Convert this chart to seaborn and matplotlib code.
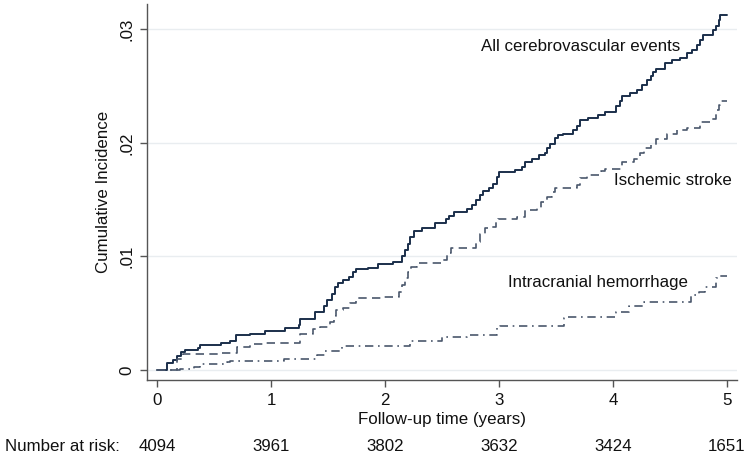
import matplotlib
matplotlib.use("Agg")
import matplotlib.pyplot as plt
import seaborn as sns
import pandas as pd

# ---------------- data ----------------
all_t = [0, 0.085, 0.14, 0.17, 0.21, 0.24, 0.36, 0.375, 0.56, 0.64, 0.69, 0.81, 0.945, 1.12, 1.24, 1.25,
         1.38, 1.46, 1.49, 1.53, 1.56, 1.59, 1.63, 1.68, 1.72, 1.74, 1.85, 1.94, 2.07, 2.15, 2.17, 2.20,
         2.22, 2.25, 2.32, 2.44, 2.53, 2.56, 2.60, 2.72, 2.76, 2.80, 2.83, 2.86, 2.91, 2.95, 2.98, 3.00,
         3.14, 3.20, 3.23, 3.29, 3.35, 3.40, 3.42, 3.45, 3.49, 3.52, 3.56, 3.65, 3.68, 3.71, 3.78, 3.87,
         3.93, 4.03, 4.06, 4.08, 4.15, 4.21, 4.25, 4.30, 4.33, 4.35, 4.38, 4.46, 4.52, 4.59, 4.65, 4.69,
         4.74, 4.76, 4.79, 4.88, 4.90, 4.93, 4.94, 5.0]
all_ci = [0, .00064, .00088, .0012, .0016, .00176, .00196, .0022, .00235, .00255, .0031, .0032, .00346,
          .00367, .0040, .0045, .0051, .0056, .0062, .0067, .0073, .0077, .0079, .0082, .0086, .0089,
          .0090, .0093, .0095, .0100, .0106, .0111, .0117, .0122, .0125, .0129, .0133, .0136, .0139,
          .0142, .0145, .0150, .0154, .0158, .0160, .0164, .0170, .0174, .0176, .0179, .0183, .0186,
          .0189, .0191, .0195, .0199, .0204, .0207, .0208, .0211, .0215, .0220, .0222, .0224, .0227,
          .0232, .0237, .0241, .0244, .0246, .0251, .0255, .0259, .0262, .0265, .0270, .0273, .0275,
          .0279, .0282, .0286, .0290, .0295, .0299, .0303, .0308, .0312, .0312]

isch_t = [0, 0.17, 0.23, 0.55, 0.70, 0.81, 0.93, 1.25, 1.37, 1.43, 1.52, 1.55, 1.57, 1.63, 1.69, 1.74,
          1.96, 2.12, 2.15, 2.17, 2.20, 2.23, 2.28, 2.50, 2.54, 2.58, 2.80, 2.83, 2.88, 2.92, 2.97, 2.99,
          3.16, 3.23, 3.33, 3.37, 3.42, 3.46, 3.49, 3.68, 3.71, 3.77, 3.89, 3.93, 4.08, 4.18, 4.24, 4.27,
          4.33, 4.38, 4.47, 4.56, 4.65, 4.76, 4.85, 4.90, 4.93, 4.94, 5.0]
isch_ci = [0, .0010, .0014, .0015, .0020, .00226, .0024, .0032, .0036, .0038, .0042, .0048, .0053, .0055,
           .0059, .0063, .0064, .0069, .0075, .0081, .0086, .0091, .0094, .0097, .0103, .0107, .0113,
           .0120, .0125, .0126, .0130, .0133, .0135, .0141, .0143, .0148, .0152, .0157, .0160, .0163,
           .0169, .0172, .0175, .0177, .0183, .0186, .0191, .0195, .0198, .0203, .0208, .0211, .0213,
           .0218, .0221, .0229, .0233, .0237, .0237]

ich_t = [0, 0.20, 0.32, 0.375, 0.61, 0.64, 1.11, 1.40, 1.47, 1.62, 2.22, 2.50, 2.72, 2.98, 3.01, 3.57,
         3.59, 4.03, 4.14, 4.27, 4.68, 4.75, 4.81, 4.90, 4.94, 5.0]
ich_ci = [0, .0001, .0003, .0005, .00068, .0008, .00097, .0013, .0017, .0021, .0026, .0029, .0031, .0037,
          .0039, .00455, .0047, .0051, .0056, .0060, .0066, .0069, .0073, .0081, .0083, .0083]

series_labels = ["All cerebrovascular events", "Ischemic stroke", "Intracranial hemorrhage"]
label_pos_t = [4.59, 5.04, 4.66]
label_pos_ci = [0.02843, 0.01671, 0.00768]

x_ticks = [0, 1, 2, 3, 4, 5]
y_ticks = [0, 0.01, 0.02, 0.03]
y_tick_labels = ["0", ".01", ".02", ".03"]
at_risk = [4094, 3961, 3802, 3632, 3424, 1651]

# ---------------- plot ----------------
sns.set_theme(style="white")
plt.rcParams["font.family"] = ["Liberation Sans", "DejaVu Sans"]

FS = 12.2
fig = plt.figure(figsize=(7.5, 4.59), dpi=100)
ax = fig.add_axes([0.196, 0.172, 0.787, 0.819])

dark = "#1b2f4b"
mid = "#4a576c"

df_all = pd.DataFrame({"t": all_t, "ci": all_ci})
df_isch = pd.DataFrame({"t": isch_t, "ci": isch_ci})
df_ich = pd.DataFrame({"t": ich_t, "ci": ich_ci})

sns.lineplot(data=df_all, x="t", y="ci", ax=ax, color=dark, lw=1.4,
             drawstyle="steps-post", estimator=None, sort=False)
l2 = sns.lineplot(data=df_isch, x="t", y="ci", ax=ax, color=mid, lw=1.2,
                  drawstyle="steps-post", estimator=None, sort=False).lines[-1]
l2.set_dashes((5.0, 3.2))
l3 = sns.lineplot(data=df_ich, x="t", y="ci", ax=ax, color=mid, lw=1.2,
                  drawstyle="steps-post", estimator=None, sort=False).lines[-1]
l3.set_dashes((5.0, 2.8, 1.0, 2.8))

for lab, tx, ty in zip(series_labels, label_pos_t, label_pos_ci):
    ax.text(tx, ty, lab, ha="right", va="center", fontsize=FS, color="#111111")

ax.set_xlim(-0.09, 5.09)
ax.set_ylim(-0.00088, 0.0322)
ax.set_xticks(x_ticks)
ax.set_xticklabels([str(v) for v in x_ticks])
ax.set_yticks(y_ticks)
ax.set_yticklabels(y_tick_labels, rotation=90, va="center")

ax.grid(axis="y", color="#e9edf0", lw=1.0)
ax.grid(axis="x", visible=False)
for s in ["top", "right"]:
    ax.spines[s].set_visible(False)
for s in ["left", "bottom"]:
    ax.spines[s].set_color("#555555")
    ax.spines[s].set_linewidth(1.0)
ax.tick_params(axis="both", which="major", direction="out", length=5, width=1.0,
               color="#555555", labelsize=FS, labelcolor="#111111", pad=4,
               left=True, bottom=True)

ax.set_xlabel("Follow-up time (years)", fontsize=FS, color="#111111", labelpad=3)
ax.set_ylabel("Cumulative Incidence", fontsize=FS, color="#111111", labelpad=6)

# number at risk row
ax.annotate("Number at risk:", xy=(0.007, 0.027), xycoords="figure fraction",
            ha="left", va="center", fontsize=FS, color="#111111")
for xv, n in zip(x_ticks, at_risk):
    ax.annotate(str(n), xy=(xv, 0.027), xycoords=("data", "figure fraction"),
                ha="center", va="center", fontsize=FS, color="#111111", annotation_clip=False)

fig.savefig("out.png", dpi=100, facecolor="white")
